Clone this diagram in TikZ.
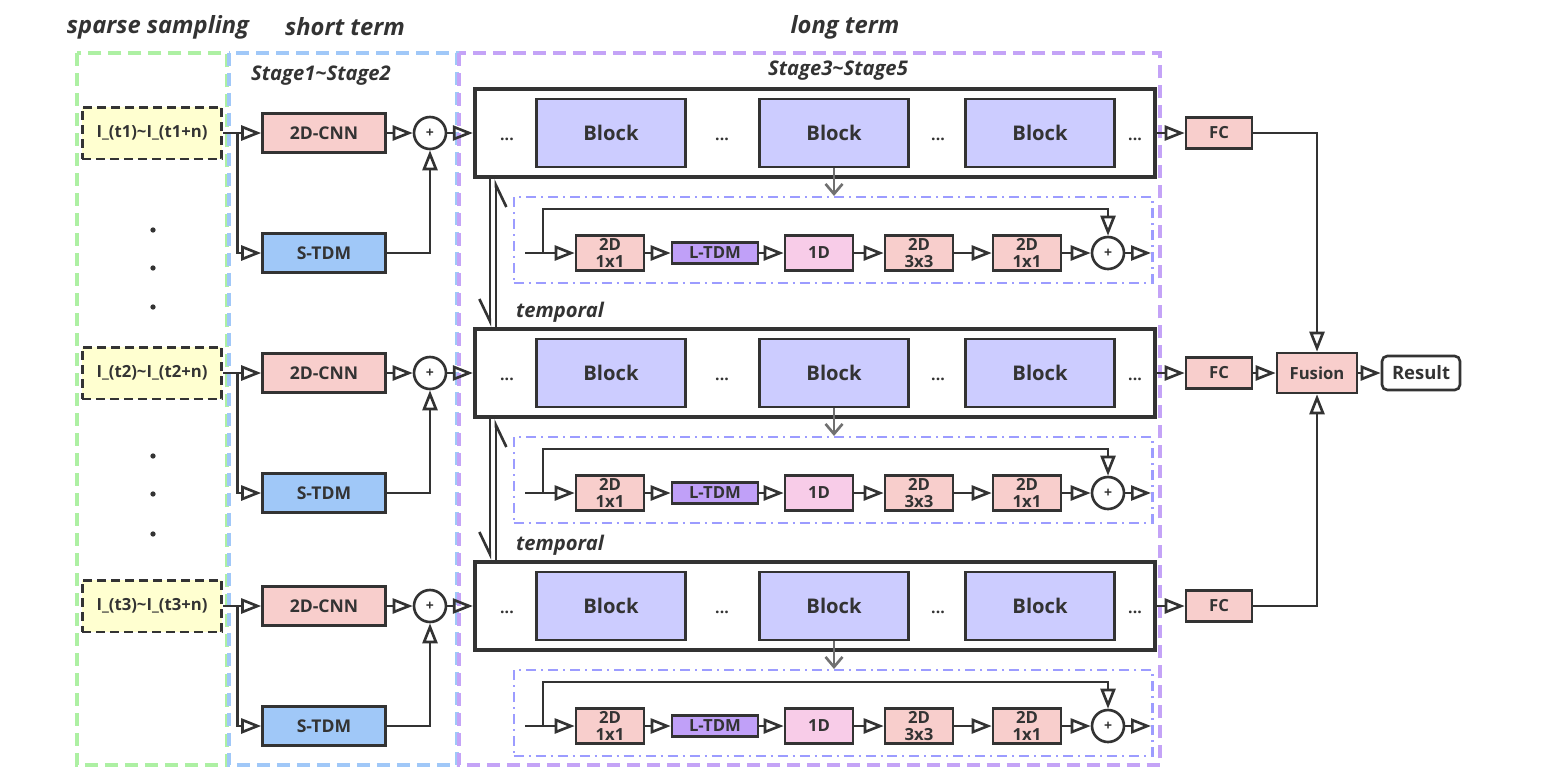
\documentclass[tikz,border=0pt]{standalone}
\usepackage{fontspec}
\setmainfont{Open Sans}
\usetikzlibrary{arrows.meta}

\definecolor{linec}{HTML}{333333}
\definecolor{cnnc}{HTML}{F8CECC}
\definecolor{stdmc}{HTML}{A0C8F8}
\definecolor{blockc}{HTML}{CCCCFF}
\definecolor{ltdmc}{HTML}{C0A0F8}
\definecolor{onedc}{HTML}{F8CCE8}
\definecolor{inputc}{HTML}{FFFFD0}
\definecolor{greenc}{HTML}{ADF0A3}
\definecolor{bluec}{HTML}{A0C8F8}
\definecolor{purplec}{HTML}{C4A3F7}
\definecolor{detc}{HTML}{9C9CFF}
\definecolor{grayc}{HTML}{707070}

\begin{document}
\begin{tikzpicture}[x=0.02cm,y=-0.02cm,
  every node/.style={text=linec},
  arr/.style={draw=linec,line width=1.5pt,-{Triangle[open,length=0.4cm,width=0.3cm]}},
  grayarr/.style={draw=grayc,line width=1.5pt,-{Straight Barb[length=0.2cm,width=0.34cm]}},
  harp/.style={draw=linec,line width=1.5pt,-{Straight Barb[harpoon,swap,length=0.44cm,width=0.42cm]}},
  box/.style={draw=linec,line width=1.5pt,inner sep=0pt,font=\bfseries\fontsize{9.5}{10}\selectfont},
  inbox/.style={box,fill=inputc,dashed,line width=1.7pt,dash pattern=on 0.18cm off 0.1cm,minimum width=2.8cm,minimum height=1.04cm,font=\bfseries\fontsize{9.5}{10}\selectfont},
  cnnbox/.style={box,fill=cnnc,minimum width=2.46cm,minimum height=0.78cm,font=\bfseries\fontsize{10}{10}\selectfont},
  stdmbox/.style={box,fill=stdmc,minimum width=2.46cm,minimum height=0.78cm,font=\bfseries\fontsize{10}{10}\selectfont},
  addop/.style={draw=linec,line width=1.5pt,circle,inner sep=0pt,minimum size=0.64cm,font=\bfseries\fontsize{8}{8}\selectfont},
  rowbox/.style={draw=linec,line width=2.5pt,minimum width=13.6cm,minimum height=1.76cm},
  blockbox/.style={box,fill=blockc,minimum width=2.98cm,minimum height=1.36cm,font=\bfseries\fontsize{11.5}{12}\selectfont},
  dotsf/.style={inner sep=0pt,font=\bfseries\fontsize{9}{9}\selectfont},
  detbox/.style={draw=detc,line width=1.2pt,dash pattern=on 0.2cm off 0.1cm on 0.04cm off 0.1cm,minimum width=12.78cm,minimum height=1.72cm},
  convbox/.style={box,fill=cnnc,align=center,minimum width=1.36cm,minimum height=0.7cm,font=\bfseries\fontsize{9.5}{10}\selectfont},
  ltdmbox/.style={box,fill=ltdmc,minimum width=1.72cm,minimum height=0.42cm},
  onedbox/.style={box,fill=onedc,minimum width=1.36cm,minimum height=0.7cm},
  fcbox/.style={box,fill=cnnc,minimum width=1.32cm,minimum height=0.62cm},
  title/.style={font=\bfseries\itshape\fontsize{13.5}{15}\selectfont},
  stagef/.style={font=\bfseries\itshape\fontsize{11.5}{12}\selectfont}
]
  \useasboundingbox (0,0) rectangle (1552,778);

  % Groups
  \draw[greenc,line width=2.2pt,dash pattern=on 0.26cm off 0.14cm] (77,53) rectangle (227,765);
  \draw[bluec,line width=2.4pt,dash pattern=on 0.26cm off 0.14cm] (229,53) rectangle (457,765);
  \draw[purplec,line width=2.4pt,dash pattern=on 0.26cm off 0.14cm] (459,53) rectangle (1160,765);
  \node[title] (tsparse) at (158,27) {sparse sampling};
  \node[title] (tshort) at (345,27) {short term};
  \node[title] (tlong) at (845,27) {long term};
  \node[stagef] (st12) at (321,76) {Stage1\textasciitilde Stage2};
  \node[stagef] (st35) at (838,71) {Stage3\textasciitilde Stage5};

  % Vertical dots between the inputs
  \foreach \dy in {230,268,307,456,494,534}
    \fill[linec] (153,\dy) circle (1.5pt);

  % One row per sampled segment
  \foreach \r/\y in {1/133,2/373,3/606} {
    \node[inbox] (in\r) at (152,\y) {I\_(t\r)\textasciitilde I\_(t\r+n)};
    \node[cnnbox] (cnn\r) at (324,\y) {2D-CNN};
    \node[stdmbox] (stdm\r) at (324,\y+120) {S-TDM};
    \node[addop] (add\r) at (430,\y) {+};
    \draw[arr] (in\r.east) -- (cnn\r.west);
    \draw[arr] (in\r.east) -- ++(14,0) |- (stdm\r.west);
    \draw[arr] (cnn\r.east) -- (add\r.west);
    \draw[arr] (stdm\r.east) -| (add\r.south);

    % Stage3~Stage5 blocks
    \node[rowbox] (stage\r) at (815,\y) {};
    \node[blockbox] (b\r1) at (611,\y) {Block};
    \node[blockbox] (b\r2) at (834,\y) {Block};
    \node[blockbox] (b\r3) at (1040,\y) {Block};
    \foreach \dx in {507,722,938,1135}
      \node[dotsf] (dt\r-\dx) at (\dx,\y+6) {...};
    \draw[arr] (add\r.east) -- (stage\r.west);

    % Inside of a block
    \node[detbox] (det\r) at (833,\y+107) {};
    \draw[grayarr] (b\r2.south) -- (b\r2.south |- det\r.north);
    \coordinate (s\r) at (525,\y+120);
    \coordinate (k\r) at (543,\y+120);
    \coordinate (e\r) at (1151,\y+120);
    \node[convbox] (c\r1) at (610,\y+120) {2D\\1x1};
    \node[ltdmbox] (lt\r) at (715,\y+120) {L-TDM};
    \node[onedbox] (od\r) at (819,\y+120) {1D};
    \node[convbox] (c\r2) at (919,\y+120) {2D\\3x3};
    \node[convbox] (c\r3) at (1027,\y+120) {2D\\1x1};
    \node[addop] (ad\r) at (1108,\y+120) {+};
    \draw[arr] (s\r) -- (c\r1.west);
    \draw[arr] (c\r1) -- (lt\r);
    \draw[arr] (lt\r) -- (od\r);
    \draw[arr] (od\r) -- (c\r2);
    \draw[arr] (c\r2) -- (c\r3);
    \draw[arr] (c\r3) -- (ad\r);
    \draw[arr] (ad\r) -- (e\r);
    \draw[arr] (k\r) -- ++(0,-44) -| (ad\r.north);

    % Head
    \node[fcbox] (fc\r) at (1219,\y) {FC};
    \draw[arr] (stage\r.east) -- (fc\r.west);
  }

  % Temporal links between the stages
  \foreach \a/\b in {1/2,2/3} {
    \draw[harp] ([xshift=0.34cm]stage\a.south west) -- ([xshift=0.34cm]stage\b.north west);
    \draw[harp] ([xshift=0.46cm]stage\b.north west) -- ([xshift=0.46cm]stage\a.south west);
    \node[stagef,anchor=base west] (tmp\b) at ([xshift=0.74cm,yshift=0.18cm]stage\b.north west) {temporal};
  }

  % Fusion
  \node[box,fill=cnnc,minimum width=1.6cm,minimum height=0.8cm] (fus) at (1317,373) {Fusion};
  \node[box,fill=white,rounded corners=3pt,minimum width=1.56cm,minimum height=0.68cm,font=\bfseries\fontsize{10.5}{11}\selectfont] (res) at (1421,373) {Result};
  \draw[arr] (fc1.east) -| (fus.north);
  \draw[arr] (fc3.east) -| (fus.south);
  \draw[arr] (fc2) -- (fus);
  \draw[arr] (fus) -- (res);
\end{tikzpicture}
\end{document}
